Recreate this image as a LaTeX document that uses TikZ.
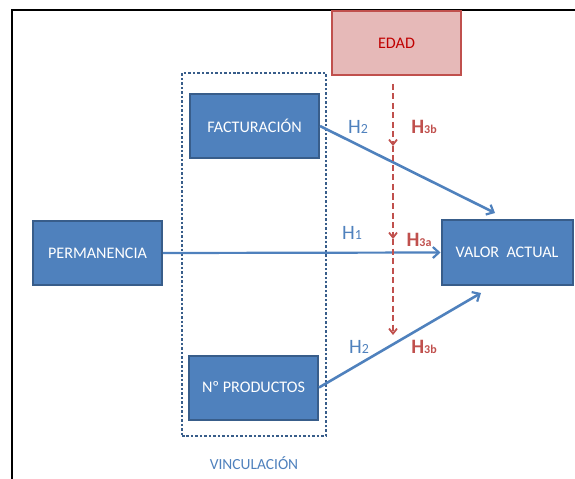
\documentclass[tikz,border=0pt]{standalone}
\usepackage{fontspec}
\setmainfont{Carlito}
\usetikzlibrary{arrows.meta}
\definecolor{bfill}{HTML}{4F81BD}
\definecolor{bdraw}{HTML}{385D8A}
\definecolor{rdraw}{HTML}{C0504D}
\definecolor{rfill}{HTML}{E6B9B8}
\definecolor{rtext}{HTML}{C00000}
\begin{document}
\begin{tikzpicture}[x=1bp,y=-1bp,
  bluebox/.style={draw=bdraw, fill=bfill, line width=2bp, text=white, minimum width=129bp, minimum height=64bp, inner sep=0pt, font=\fontsize{16.2}{18}\selectfont},
  redbox/.style={draw=rdraw, fill=rfill, line width=2bp, text=rtext, minimum width=129bp, minimum height=64bp, inner sep=0pt, font=\fontsize{16.2}{18}\selectfont},
  bluearrow/.style={draw=bfill, line width=2.6bp, -{Straight Barb[length=6bp,width=11bp,line width=2.2bp]}},
  redarrow/.style={draw=rdraw, line width=2.6bp, dash pattern=on 6bp off 3.5bp, -{Straight Barb[length=5bp,width=8bp,line width=1.8bp]}},
  hblue/.style={text=bfill, font=\fontsize{20.5}{22}\selectfont, inner sep=0pt},
  hred/.style={text=rdraw, font=\fontsize{20.5}{22}\selectfont\bfseries, inner sep=0pt},
  frame/.style={draw=black, line width=2bp}]
\useasboundingbox (0,0) rectangle (575,479);
% frame
\coordinate (fbl) at (12,479);
\coordinate (ftl) at (12,10);
\coordinate (ftr) at (575,10);
\draw[frame] (fbl) -- (ftl) -- (ftr);
% group box
\node[draw=bdraw, line width=2.5bp, dotted, minimum width=144bp, minimum height=363bp, inner sep=0pt] (grp) at (254,254.5) {};
\node[text=bfill, font=\fontsize{15.5}{17}\selectfont] (vinc) at (254,463) {VINCULACIÓN};
% boxes
\node[redbox] (edad) at (396.5,43) {EDAD};
\node[bluebox] (fact) at (254.5,126) {FACTURACIÓN};
\node[bluebox] (perm) at (97.5,253) {PERMANENCIA};
\node[bluebox] (prod) at (253.5,387.5) {Nº PRODUCTOS};
\node[bluebox, minimum width=131bp] (valor) at (507,252.5) {VALOR\ \ ACTUAL};
% blue arrows
\coordinate (t1) at (495,213);
\coordinate (t2) at (481,293);
\draw[bluearrow] (fact.east) -- (t1);
\draw[bluearrow, line width=2.2bp] (perm.east) -- (valor.west);
\draw[bluearrow] (prod.east) -- (t2);
% red dashed arrows
\coordinate (r0) at (393,84);
\coordinate (r1) at (393,146);
\coordinate (r2) at (393,239);
\coordinate (r3) at (393,335);
\draw[redarrow] (r0) -- (r1);
\draw[redarrow] (r1) -- (r2);
\draw[redarrow] (r2) -- (r3);
% labels
\node[hblue] (h2a) at (358,127) {H{\fontsize{14}{15}\selectfont 2}};
\node[hred] (h3ba) at (424,127) {H{\fontsize{12}{13}\selectfont 3b}};
\node[hblue] (h1) at (352,233) {H{\fontsize{14}{15}\selectfont 1}};
\node[hred] (h3a) at (419,240) {H{\fontsize{12}{13}\selectfont 3a}};
\node[hblue] (h2b) at (359,347) {H{\fontsize{14}{15}\selectfont 2}};
\node[hred] (h3bb) at (424,347) {H{\fontsize{12}{13}\selectfont 3b}};
\end{tikzpicture}
\end{document}
